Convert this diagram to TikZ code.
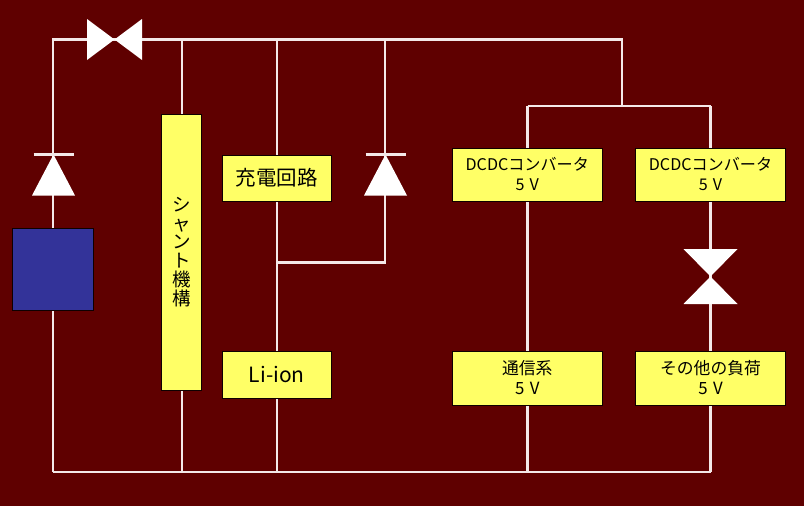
\documentclass[tikz,border=0pt]{standalone}
\usepackage{fontspec}
\setmainfont{Noto Sans CJK JP}
\definecolor{bgred}{HTML}{5F0000}
\definecolor{wire}{HTML}{F4E8E8}
\definecolor{boxy}{HTML}{FFFF66}
\definecolor{panel}{HTML}{333399}
\tikzset{
  x=1pt,y=-1pt,
  wireline/.style={draw=wire,line width=2.2pt},
  box/.style={draw=black!85!bgred,fill=boxy,line width=1pt,inner sep=0pt,align=center,text=black,font=\fontsize{16}{20}\selectfont},
  swh/.style={inner sep=0pt,minimum width=55pt,minimum height=41pt,path picture={
    \fill[white] (path picture bounding box.north west)--(path picture bounding box.center)--(path picture bounding box.south west)--cycle;
    \fill[white] (path picture bounding box.north east)--(path picture bounding box.center)--(path picture bounding box.south east)--cycle;}},
  swv/.style={inner sep=0pt,minimum width=54pt,minimum height=55pt,path picture={
    \fill[white] (path picture bounding box.north west)--(path picture bounding box.center)--(path picture bounding box.north east)--cycle;
    \fill[white] (path picture bounding box.south west)--(path picture bounding box.center)--(path picture bounding box.south east)--cycle;}},
  diode/.style={inner sep=0pt,minimum width=43pt,minimum height=42pt,path picture={
    \fill[white] ([yshift=-1pt]path picture bounding box.north)--(path picture bounding box.south west)--(path picture bounding box.south east)--cycle;
    \draw[wireline] ([xshift=1.5pt,yshift=-1pt]path picture bounding box.north west)--([xshift=-1.5pt,yshift=-1pt]path picture bounding box.north east);}},
}
\newcommand{\lowered}[1]{\raisebox{-1pt}{#1}}
\newcommand{\fivev}{\lowered{5\hspace{0.32em}V}}
\begin{document}
\begin{tikzpicture}
\useasboundingbox[fill=bgred] (0,0) rectangle (804,506);
% junctions
\coordinate (tl) at (53,39.5);
\coordinate (tshunt) at (182,39.5);
\coordinate (tchg) at (277,39.5);
\coordinate (tdio) at (385,39.5);
\coordinate (tr) at (622,39.5);
\coordinate (mr) at (622,106);
\coordinate (ml) at (527.5,106);
\coordinate (mrr) at (710.5,106);
\coordinate (bl) at (53,472);
\coordinate (bshunt) at (182,472);
\coordinate (bli) at (277,472);
\coordinate (bcom) at (527.5,472);
\coordinate (br) at (710.5,472);
\coordinate (jn) at (277,262.5);
\coordinate (jd) at (385,262.5);
% wires first
\draw[wireline] (bl) -- (tl) -- (tr) -- (mr);
\draw[wireline] (ml) -- (mrr);
\draw[wireline] (ml) -- (bcom);
\draw[wireline] (mrr) -- (br);
\draw[wireline] (bl) -- (br);
\draw[wireline] (tshunt) -- (bshunt);
\draw[wireline] (tchg) -- (bli);
\draw[wireline] (tdio) -- (jd) -- (jn);
% components
\node[swh] (sw) at (114.5,39.5) {};
\node[diode] (d1) at (53.5,174.5) {};
\node[diode] (d2) at (385.5,174.5) {};
\node[swv] (sw2) at (710.5,276.5) {};
\node[box,fill=panel,minimum width=80.5pt,minimum height=81.5pt] (pv) at (52.75,269.25) {};
\node[box,minimum width=40pt,minimum height=276pt,font=\fontsize{18.5}{18.8}\selectfont] (shunt) at (181.75,252) {シ\\ャ\\ン\\ト\\機\\構};
\node[box,minimum width=108.5pt,minimum height=46pt,font=\fontsize{20.5}{22}\selectfont] (chg) at (276.75,178) {\lowered{充電回路}};
\node[box,minimum width=108.5pt,minimum height=47pt,font=\fontsize{21}{22}\selectfont] (li) at (276.75,374.5) {\lowered{Li-ion}};
\node[box,minimum width=149.5pt,minimum height=53pt,font=\fontsize{16.1}{20}\selectfont] (dc1) at (527.25,174.5) {\lowered{DCDCコンバータ}\\\fivev};
\node[box,minimum width=149.5pt,minimum height=53pt,font=\fontsize{16.1}{20}\selectfont] (dc2) at (710.5,174.5) {\lowered{DCDCコンバータ}\\\fivev};
\node[box,minimum width=149.5pt,minimum height=54pt,font=\fontsize{16.8}{20}\selectfont] (com) at (527.25,378) {\lowered{通信系}\\\fivev};
\node[box,minimum width=149.5pt,minimum height=54pt,font=\fontsize{16.8}{20}\selectfont] (oth) at (710.5,378) {\lowered{その他の負荷}\\\fivev};
\end{tikzpicture}
\end{document}
